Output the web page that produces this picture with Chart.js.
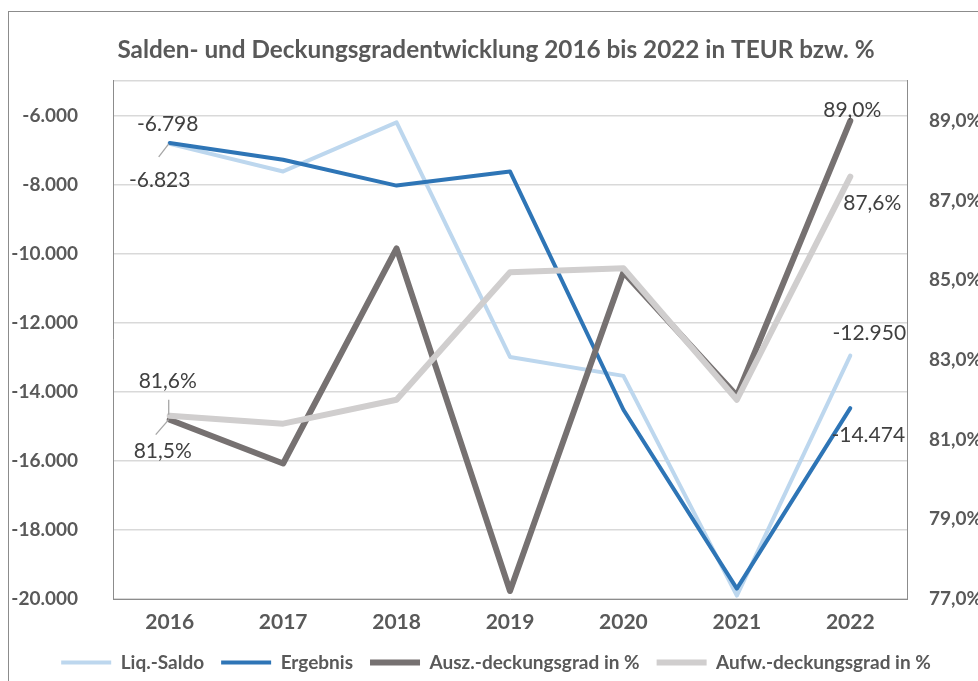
<!DOCTYPE html>
<html>
<head>
<meta charset="utf-8">
<script src="https://cdn.jsdelivr.net/npm/chart.js@4"></script>
<style>
  html, body { margin: 0; padding: 0; background: #fff; }
  #wrap { width: 978px; height: 681px; }
</style>
</head>
<body>
<div id="wrap"><canvas id="chart" width="978" height="681"></canvas></div>
<script>
// Data
const years = ['2016', '2017', '2018', '2019', '2020', '2021', '2022'];
const liqSaldo = [-6823, -7620, -6200, -12990, -13540, -19900, -12950];
const ergebnis = [-6798, -7280, -8030, -7620, -14520, -19700, -14474];
const auszDeckung = [81.5, 80.4, 85.8, 77.2, 85.2, 82.1, 89.0];
const aufwDeckung = [81.6, 81.4, 82.0, 85.2, 85.3, 82.0, 87.6];
const leftTicks = [-20000, -18000, -16000, -14000, -12000, -10000, -8000, -6000];
const rightTicks = [77, 79, 81, 83, 85, 87, 89];

const FONT = 'Lato, "Liberation Sans", sans-serif';
const TXT = '#595959';

function fmtTeur(v) {
  const s = Math.abs(Math.round(v)).toString().replace(/\B(?=(\d{3})+(?!\d))/g, '.');
  return (v < 0 ? '-' : '') + s;
}
function fmtPct(v) {
  return v.toFixed(1).replace('.', ',') + '%';
}

// which points get a value label, with offsets from the point and optional leader line
const labelSpecs = [
  { ds: 1, i: 0, dx: -2, dy: -19 },
  { ds: 0, i: 0, dx: -10, dy: 36, leader: [-11, 13, -1, 0] },
  { ds: 3, i: 0, dx: -2, dy: -34, leader: [-1, -16, -1, -1] },
  { ds: 2, i: 0, dx: -7, dy: 32, leader: [-14, 15, -1, 0] },
  { ds: 2, i: 6, dx: 2, dy: -11 },
  { ds: 3, i: 6, dx: 22, dy: 27 },
  { ds: 0, i: 6, dx: 19, dy: -22 },
  { ds: 1, i: 6, dx: 18, dy: 27 }
];

const framePlugin = {
  id: 'frame',
  beforeDraw(chart) {
    const ctx = chart.ctx;
    ctx.save();
    ctx.fillStyle = '#fff';
    ctx.fillRect(0, 0, chart.width, chart.height);
    ctx.strokeStyle = '#8c8c8c';
    ctx.lineWidth = 1;
    ctx.strokeRect(8.5, 11.5, chart.width + 20, chart.height + 20);
    ctx.restore();
  }
};

const valueLabels = {
  id: 'valueLabels',
  afterDatasetsDraw(chart) {
    const ctx = chart.ctx;
    ctx.save();
    ctx.font = '21px ' + FONT;
    ctx.fillStyle = '#404040';
    ctx.textAlign = 'center';
    ctx.textBaseline = 'middle';
    labelSpecs.forEach(s => {
      const pt = chart.getDatasetMeta(s.ds).data[s.i];
      const v = chart.data.datasets[s.ds].data[s.i];
      const txt = chart.data.datasets[s.ds].yAxisID === 'y1' ? fmtPct(v) : fmtTeur(v);
      if (s.leader) {
        ctx.strokeStyle = '#a6a6a6';
        ctx.lineWidth = 1.3;
        ctx.beginPath();
        ctx.moveTo(pt.x + s.leader[0], pt.y + s.leader[1]);
        ctx.lineTo(pt.x + s.leader[2], pt.y + s.leader[3]);
        ctx.stroke();
      }
      ctx.fillText(txt, pt.x + s.dx, pt.y + s.dy);
    });
    ctx.restore();
  }
};

const ctx = document.getElementById('chart').getContext('2d');
new Chart(ctx, {
  type: 'line',
  data: {
    labels: years,
    datasets: [
      { label: 'Liq.-Saldo', data: liqSaldo, borderColor: '#BDD7EE', backgroundColor: '#BDD7EE',
        borderWidth: 4, yAxisID: 'y', order: 4 },
      { label: 'Ergebnis', data: ergebnis, borderColor: '#2E75B6', backgroundColor: '#2E75B6',
        borderWidth: 4, yAxisID: 'y', order: 3 },
      { label: 'Ausz.-deckungsgrad in %', data: auszDeckung, borderColor: '#767171', backgroundColor: '#767171',
        borderWidth: 6, yAxisID: 'y1', order: 2 },
      { label: 'Aufw.-deckungsgrad in %', data: aufwDeckung, borderColor: '#D0CECE', backgroundColor: '#D0CECE',
        borderWidth: 6, yAxisID: 'y1', order: 1 }
    ]
  },
  options: {
    responsive: false,
    animation: false,
    // negative right padding lets the title and legend centre a bit right of the canvas middle
    layout: { padding: { left: 0, right: -14, top: 0, bottom: -1 } },
    elements: {
      point: { radius: 0, hoverRadius: 0 },
      line: { tension: 0, borderCapStyle: 'round', borderJoinStyle: 'round', fill: false }
    },
    plugins: {
      tooltip: { enabled: false },
      title: {
        display: true,
        text: 'Salden- und Deckungsgradentwicklung 2016 bis 2022 in TEUR bzw. %',
        color: TXT,
        font: { family: FONT, size: 24.3, weight: 'bold', lineHeight: 1.2 },
        padding: { top: 35.4, bottom: 16.4 }
      },
      legend: {
        position: 'bottom',
        labels: {
          sort: (a, b) => a.datasetIndex - b.datasetIndex,
          color: TXT,
          font: { family: FONT, size: 19, weight: 'bold' },
          usePointStyle: true,
          pointStyle: 'line',
          pointStyleWidth: 50,
          boxHeight: 4,
          padding: 17
        }
      }
    },
    scales: {
      x: {
        offset: true,
        grid: { display: false, drawTicks: false },
        border: { display: true, color: '#8c8c8c', width: 1 },
        ticks: { color: TXT, font: { family: FONT, size: 21, weight: 'bold' }, padding: 11 },
        afterFit(scale) { scale.height = 37; }
      },
      y: {
        position: 'left',
        min: -20000,
        max: -5000,
        afterBuildTicks(scale) {
          scale.ticks = leftTicks.concat([-5000]).map(v => ({ value: v }));
        },
        grid: { color: '#D9D9D9', lineWidth: 1.5, drawTicks: false },
        border: { display: true, color: '#8c8c8c', width: 1 },
        ticks: {
          color: TXT,
          font: { family: FONT, size: 19, weight: 'bold' },
          padding: 35,
          callback: v => (v === -5000 ? '' : fmtTeur(v))
        },
        afterFit(scale) { scale.width = 113; }
      },
      y1: {
        position: 'right',
        min: 77,
        max: 90,
        afterBuildTicks(scale) {
          scale.ticks = rightTicks.map(v => ({ value: v }));
        },
        grid: { display: false, drawTicks: false },
        border: { display: true, color: '#8c8c8c', width: 1 },
        ticks: {
          color: TXT,
          font: { family: FONT, size: 19, weight: 'bold' },
          padding: 22,
          callback: v => fmtPct(v)
        },
        afterFit(scale) { scale.width = 85; }
      }
    }
  },
  plugins: [framePlugin, valueLabels]
});
</script>
</body>
</html>
